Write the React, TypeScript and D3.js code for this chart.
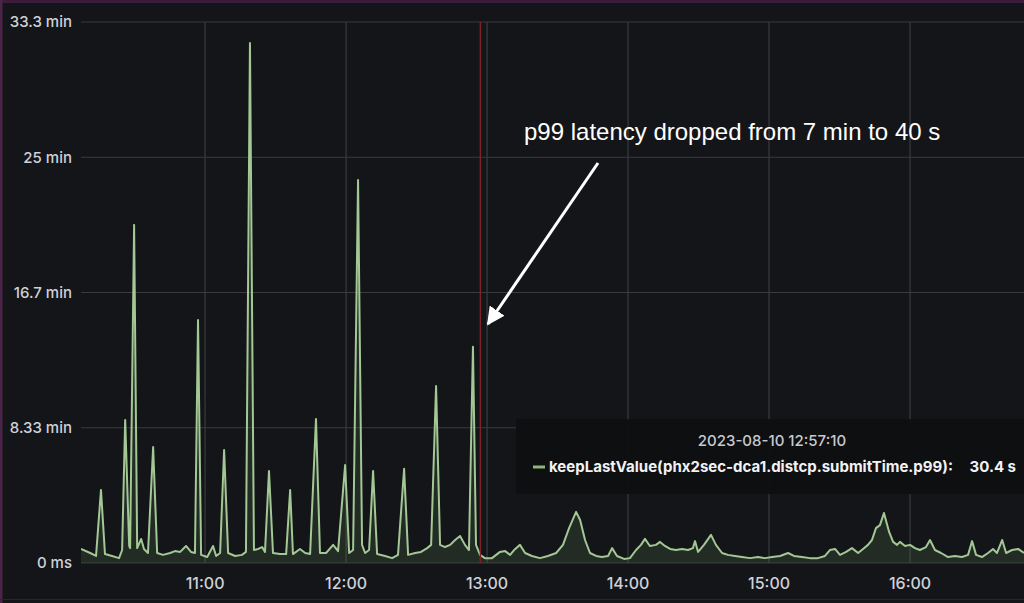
import React from "react";
import * as d3 from "d3";

// minutes after 2023-08-10 10:00
const offsetMin = [
  7.2, 11.1, 13.6, 15.7, 17.4, 20.4, 23.4, 24.7, 26.0, 27.7, 28.1, 29.8, 31.1, 32.8, 34.0, 35.7,
  37.9, 39.6, 42.1, 45.1, 47.2, 49.4, 51.9, 54.0, 55.7, 57.0, 58.3, 60.9, 63.4, 64.7, 66.4, 68.1,
  69.8, 72.8, 75.7, 77.4, 79.1, 80.8, 82.6, 84.3, 85.5, 87.2, 88.9, 91.9, 94.5, 96.2, 97.4, 100.4,
  102.6, 104.7, 107.2, 108.9, 111.5, 114.5, 116.6, 119.6, 121.3, 123.0, 125.1, 126.8, 128.1, 129.8,
  131.5, 133.2, 136.6, 139.6, 142.1, 144.7, 146.4, 149.4, 151.9, 154.5, 156.2, 158.3, 160.0, 162.1,
  164.3, 166.4, 168.5, 170.6, 172.3, 174.0, 175.3, 177.0, 179.1, 182.1, 185.5, 187.7, 189.8, 191.5,
  194.0, 196.2, 199.1, 202.5, 205.9, 209.4, 212.3, 214.9, 217.9, 219.6, 221.7, 223.8, 226.4, 228.9,
  231.5, 233.2, 235.3, 238.3, 240.8, 243.4, 245.5, 247.2, 249.3, 251.9, 253.6, 255.7, 257.9, 260.4,
  263.0, 265.5, 267.6, 268.5, 269.8, 272.3, 275.3, 277.4, 280.0, 282.5, 285.5, 288.5, 291.9, 295.3,
  298.3, 301.3, 304.7, 308.1, 310.6, 314.0, 317.4, 320.8, 323.8, 325.9, 328.1, 330.2, 332.8, 335.3,
  337.9, 340.0, 342.1, 343.8, 345.5, 347.2, 348.9, 351.1, 352.8, 354.5, 355.7, 357.9, 360.0, 362.1,
  364.2, 366.8, 368.5, 370.6, 373.2, 376.2, 379.1, 382.1, 384.7, 386.4, 388.1, 390.6, 393.2, 395.3,
  397.0, 399.2, 400.9, 403.4, 406.0, 408.5,
];

// p99 submit time, seconds
const latencySec = [
  52, 37, 26, 270, 33, 26, 18, 48, 529, 63, 55, 1250, 55, 89, 52, 37,
  429, 37, 30, 37, 44, 41, 63, 41, 37, 898, 30, 22, 63, 26, 37, 418,
  37, 26, 30, 41, 1922, 48, 52, 59, 41, 340, 37, 33, 33, 270, 33, 52,
  37, 33, 532, 37, 37, 67, 44, 362, 37, 48, 1416, 67, 37, 48,
  340, 33, 26, 18, 30, 348, 30, 37, 41, 55, 67, 654, 67, 59,
  67, 85, 100, 67, 48, 799, 67, 30, 18, 18, 41, 44, 30, 48,
  67, 37, 26, 18, 26, 37, 67, 129, 189, 159, 85, 37, 26, 22,
  26, 55, 26, 15, 18, 48, 67, 89, 63, 67, 78, 63, 52, 48,
  52, 48, 55, 81, 41, 67, 104, 67, 37, 30, 26, 22, 18, 22,
  18, 22, 26, 37, 26, 22, 18, 18, 26, 48, 52, 30, 41, 55,
  37, 52, 67, 85, 129, 140, 185, 115, 78, 67, 78, 63, 67, 55,
  48, 59, 85, 48, 37, 22, 26, 22, 30, 81, 30, 22, 37, 52,
  37, 85, 37, 48, 52, 37,
];

const yTickValues = [0, 500, 1000, 1500, 2000];
const yTickLabels = ["0 ms", "8.33 min", "16.7 min", "25 min", "33.3 min"];

const seriesName = "keepLastValue(phx2sec-dca1.distcp.submitTime.p99):";
const hoverTimeLabel = "2023-08-10 12:57:10";
const hoverOffsetMin = 177.17; // 12:57:10
const hoverValueLabel = "30.4 s";
const annotation = "p99 latency dropped from 7 min to 40 s";

const W = 1024;
const H = 603;
const base = new Date(2023, 7, 10, 10, 0, 0);
const toDate = (m: number) => new Date(base.getTime() + m * 60000);

export default function App() {
  const x = d3
    .scaleTime()
    .domain([toDate(7.2), toDate(408.5)])
    .range([81, 1024]);
  const y = d3.scaleLinear().domain([0, 2000]).range([563, 22]);

  const data = offsetMin.map((m, i) => ({ t: toDate(m), v: latencySec[i] }));
  const line = d3
    .line<{ t: Date; v: number }>()
    .x((d) => x(d.t))
    .y((d) => y(d.v));
  const area = d3
    .area<{ t: Date; v: number }>()
    .x((d) => x(d.t))
    .y0(y(0))
    .y1((d) => y(d.v));

  const xTicks = x.ticks(d3.timeHour.every(1)!);
  const fmt = d3.timeFormat("%H:%M");
  const hoverX = x(toDate(hoverOffsetMin));

  const font = "Inter, Roboto, 'Noto Sans', sans-serif";

  return (
    <svg
      width={W}
      height={H}
      style={{ position: "absolute", left: 0, top: 0, background: "#141519" }}
    >
      <defs>
        <clipPath id="plot">
          <rect x={81} y={0} width={W - 81} height={564} />
        </clipPath>
        <marker
          id="ah"
          viewBox="0 0 10 10"
          refX={9}
          refY={5}
          markerWidth={6}
          markerHeight={6}
          orient="auto"
          markerUnits="strokeWidth"
        >
          <path d="M0,0 L10,5 L0,10 z" fill="#ffffff" />
        </marker>
      </defs>
      <rect x={0} y={0} width={W} height={H} fill="#141519" />
      <rect x={0} y={0} width={W} height={3} fill="#3b1d3b" />
      <rect x={0} y={0} width={2.5} height={H} fill="#4a2549" />
      <line x1={0} x2={W} y1={599.5} y2={599.5} stroke="#26272b" strokeWidth={1} />

      {/* grid */}
      {yTickValues.map((v) => (
        <line
          key={"gy" + v}
          x1={81}
          x2={W}
          y1={y(v)}
          y2={y(v)}
          stroke="#3a3b3f"
          strokeWidth={1.2}
        />
      ))}
      {xTicks.map((t) => (
        <line
          key={"gx" + t.getTime()}
          x1={x(t)}
          x2={x(t)}
          y1={y(2000)}
          y2={y(0)}
          stroke="#3a3b3f"
          strokeWidth={1.2}
        />
      ))}

      {/* series */}
      <g clipPath="url(#plot)">
        <path d={area(data) || ""} fill="rgba(115,160,100,0.16)" />
        <path
          d={line(data) || ""}
          fill="none"
          stroke="#a3c795"
          strokeWidth={2}
          strokeLinejoin="round"
        />
      </g>

      {/* hover line */}
      <line
        x1={hoverX}
        x2={hoverX}
        y1={y(2000)}
        y2={y(0)}
        stroke="#7a2428"
        strokeWidth={1.5}
      />

      {/* axes labels */}
      {yTickValues.map((v, i) => (
        <text
          key={"yl" + v}
          x={72}
          y={y(v)}
          dy="0.35em"
          textAnchor="end"
          fill="#d0d1d8"
          fontFamily={font}
          fontSize={15}
          fontWeight={500}
        >
          {yTickLabels[i]}
        </text>
      ))}
      {xTicks.map((t) => (
        <text
          key={"xl" + t.getTime()}
          x={x(t)}
          y={589}
          textAnchor="middle"
          fill="#d0d1d8"
          fontFamily={font}
          fontSize={16}
          fontWeight={500}
        >
          {fmt(t)}
        </text>
      ))}

      {/* tooltip */}
      <rect x={516} y={419} width={W - 516} height={75} fill="#0e0f11" opacity={0.95} />
      <text
        x={772}
        y={446}
        textAnchor="middle"
        fill="#c8c9d0"
        fontFamily={font}
        fontSize={15}
        fontWeight={500}
      >
        {hoverTimeLabel}
      </text>
      <line x1={533} x2={545} y1={467} y2={467} stroke="#8fb57e" strokeWidth={3} />
      <text
        x={549}
        y={472}
        fill="#f2f2f4"
        fontFamily={font}
        fontSize={15}
        fontWeight={700}
      >
        {seriesName}
      </text>
      <text
        x={1016}
        y={472}
        textAnchor="end"
        fill="#f2f2f4"
        fontFamily={font}
        fontSize={15}
        fontWeight={700}
      >
        {hoverValueLabel}
      </text>

      {/* annotation */}
      <text
        x={524}
        y={140}
        fill="#ffffff"
        fontFamily="'Liberation Sans', Arial, sans-serif"
        fontSize={24}
      >
        {annotation}
      </text>
      <line
        x1={598}
        y1={163}
        x2={488}
        y2={324}
        stroke="#ffffff"
        strokeWidth={3}
        markerEnd="url(#ah)"
      />
    </svg>
  );
}
